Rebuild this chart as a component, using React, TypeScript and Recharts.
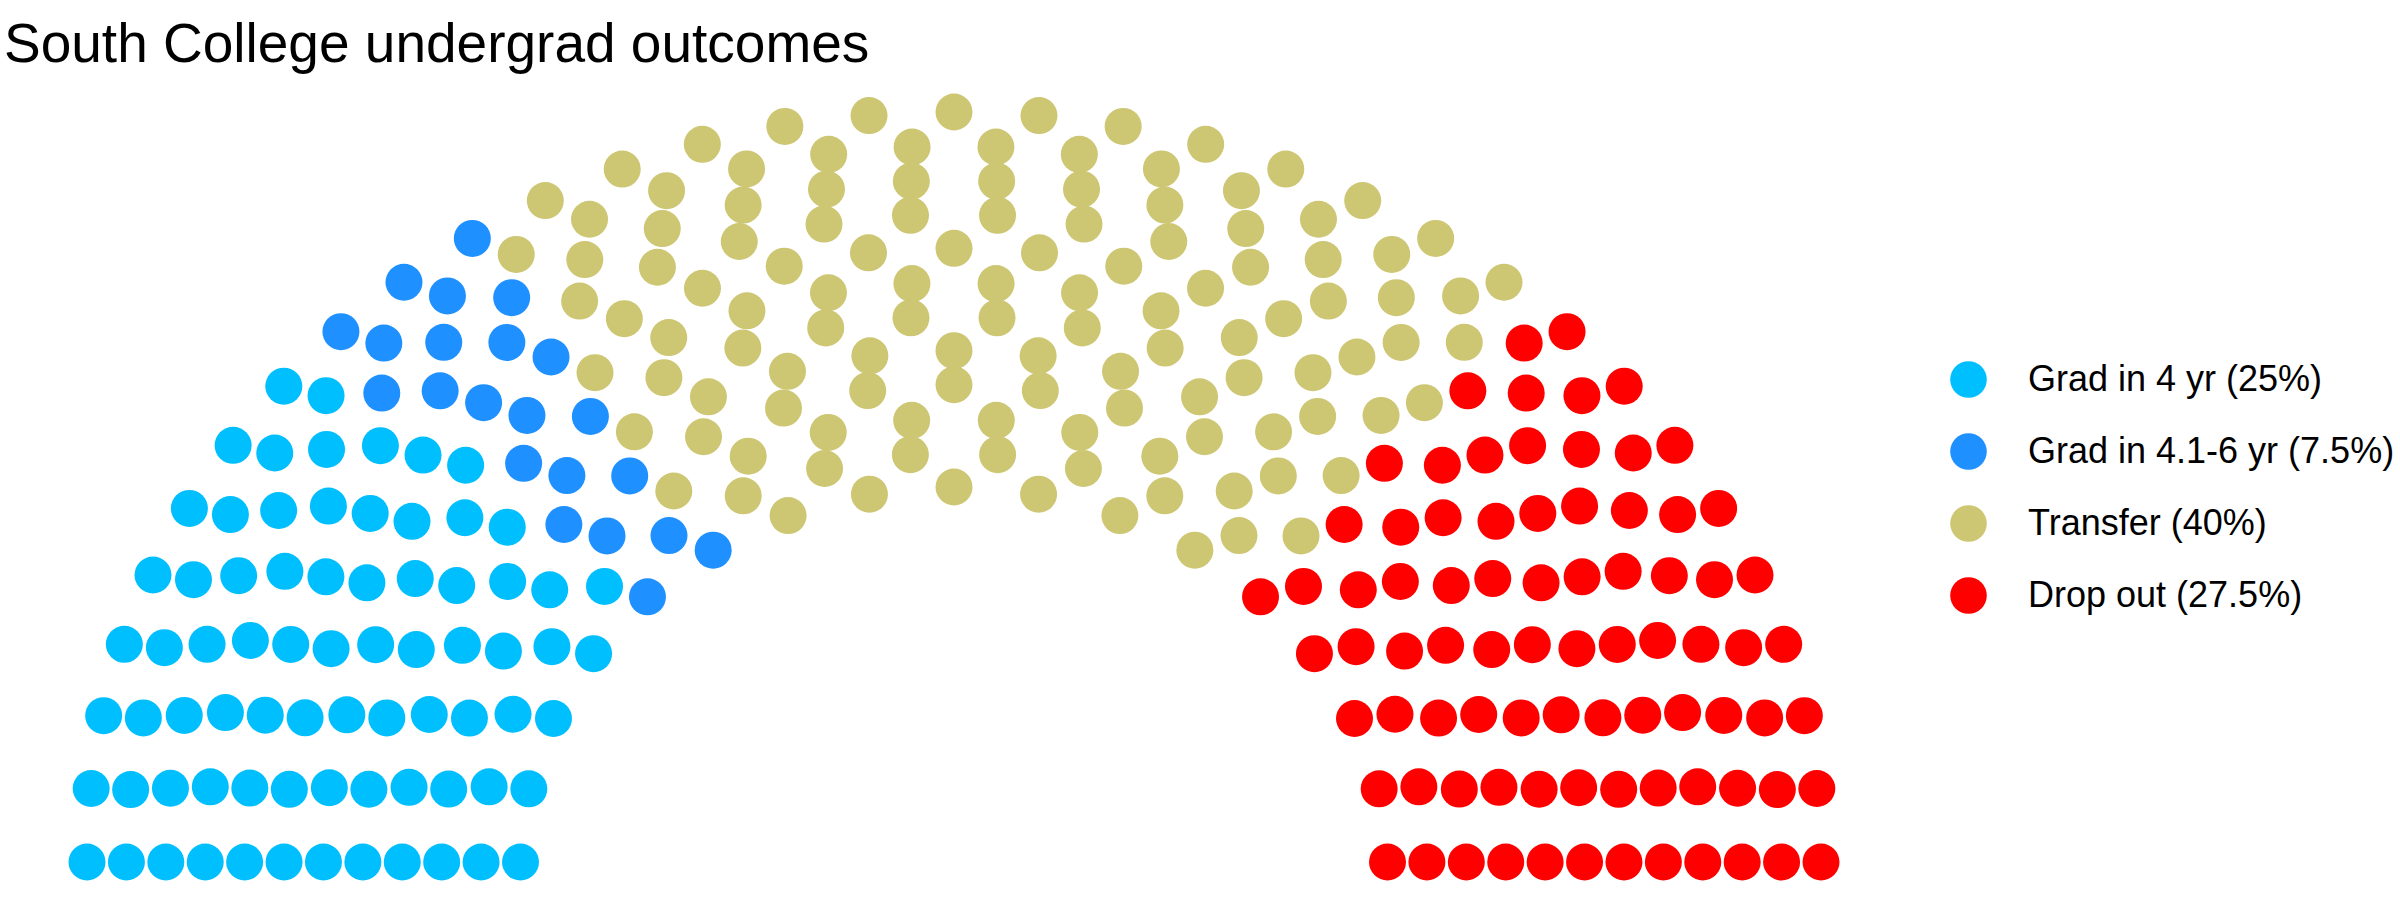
import React from 'react';
import { ScatterChart, Scatter, XAxis, YAxis } from 'recharts';

const outcomes = ['Grad in 4 yr', 'Grad in 4.1-6 yr', 'Transfer', 'Drop out'];
const shares = [25, 7.5, 40, 27.5];
const seats = [75, 22, 120, 82];
const COLORS = ['#00BFFF', '#1E90FF', '#CDC673', '#FF0000'];
const PARL_ROWS = 12;

// pixel placement of the semicircle (centre + pixels per unit radius)
const CX = 954;
const CY = 862;
const X_UNIT = 433.5;
const Y_UNIT = 375;
const W = 2400;
const H = 900;
const DOT_R = 18.5;

const FONT = '"Liberation Sans", Arial, Helvetica, sans-serif';

// R rounds half to even, keep that so the row counts come out the same
const roundR = (v: number) => {
  const f = Math.floor(v);
  if (Math.abs(v - f - 0.5) < 1e-9) return f % 2 === 0 ? f : f + 1;
  return Math.round(v);
};

// semicircle parliament: rows with radius 1..2, seats per row proportional to radius
function semicircleSeats(total: number, rows: number) {
  const radii = Array.from({ length: rows }, (_, i) => 1 + i / (rows - 1));
  let left = total;
  const pts: { x: number; y: number; r: number; theta: number }[] = [];
  radii.forEach((r, i) => {
    const rest = radii.slice(i).reduce((a, b) => a + b, 0);
    const n = roundR((left * r) / rest);
    left -= n;
    for (let k = 0; k < n; k++) {
      const theta = n > 1 ? (Math.PI * k) / (n - 1) : 0;
      pts.push({ x: r * Math.cos(theta), y: r * Math.sin(theta), r, theta });
    }
  });
  // left to right, outer row first on ties
  pts.sort((a, b) => (Math.abs(b.theta - a.theta) > 1e-9 ? b.theta - a.theta : b.r - a.r));
  return pts;
}

const allSeats = semicircleSeats(seats.reduce((a, b) => a + b, 0), PARL_ROWS);
let cursor = 0;
const partyData = seats.map(n => {
  const d = allSeats.slice(cursor, cursor + n);
  cursor += n;
  return d;
});

const xDomain = [-CX / X_UNIT, (W - CX) / X_UNIT];
const yDomain = [-(H - CY) / Y_UNIT, CY / Y_UNIT];

export default function App() {
  return (
    <div style={{ position: 'absolute', left: 0, top: 0, width: W, height: H, background: '#fff', fontFamily: FONT }}>
      <div style={{ position: 'absolute', left: 4, top: 16, fontSize: 55, lineHeight: 1, color: '#000', whiteSpace: 'nowrap' }}>
        South College undergrad outcomes
      </div>

      <ScatterChart width={W} height={H} margin={{ top: 0, right: 0, bottom: 0, left: 0 }}>
        <XAxis type="number" dataKey="x" domain={xDomain} hide />
        <YAxis type="number" dataKey="y" domain={yDomain} hide />
        {partyData.map((d, i) => (
          <Scatter
            key={outcomes[i]}
            name={outcomes[i]}
            data={d}
            fill={COLORS[i]}
            isAnimationActive={false}
            shape={(p: any) => <circle cx={p.cx} cy={p.cy} r={DOT_R} fill={COLORS[i]} />}
          />
        ))}
      </ScatterChart>

      {/* Legend */}
      <div style={{ position: 'absolute', left: 1950, top: 343 }}>
        {outcomes.map((name, i) => (
          <div key={name} style={{ display: 'flex', alignItems: 'center', height: 72 }}>
            <svg width={37} height={37} style={{ display: 'block' }}>
              <circle cx={18.5} cy={18.5} r={18.3} fill={COLORS[i]} />
            </svg>
            <span style={{ marginLeft: 41, fontSize: 36, color: '#000', whiteSpace: 'nowrap' }}>
              {`${name} (${shares[i]}%)`}
            </span>
          </div>
        ))}
      </div>
    </div>
  );
}
